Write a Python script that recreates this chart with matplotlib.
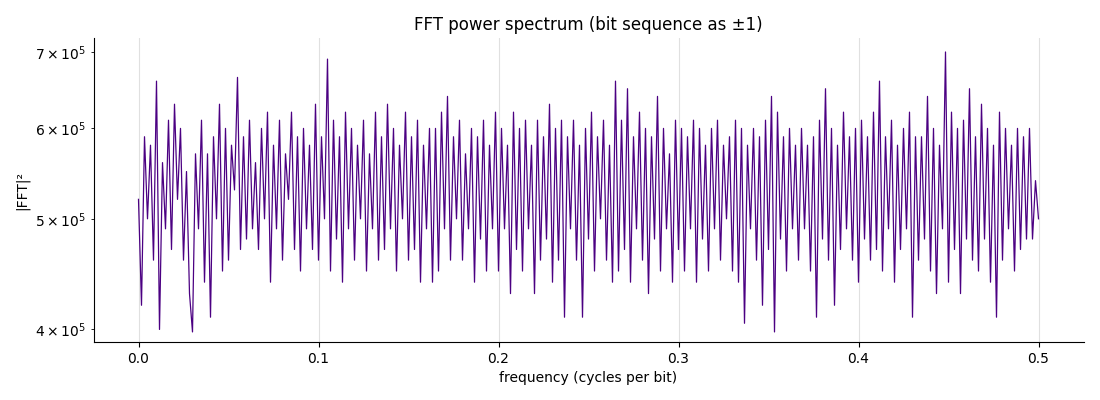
import numpy as np
import matplotlib
matplotlib.use("Agg")
import matplotlib.pyplot as plt
from matplotlib.ticker import LogLocator, LogFormatterSciNotation, NullFormatter

# power values, in units of 1e5 (approximate, downsampled)
power_e5 = [
    5.2, 4.2, 5.9, 5.0, 5.8, 4.6, 6.6, 4.0, 5.6, 4.9, 6.1, 4.7, 6.3, 5.2, 6.0, 4.6, 5.5, 4.3, 3.98, 5.7,
    4.9, 6.1, 4.4, 5.7, 4.1, 5.9, 5.0, 6.3, 4.5, 6.0, 4.6, 5.8, 5.3, 6.65, 4.7, 5.9, 4.8, 6.1, 4.9, 5.6,
    4.7, 6.0, 5.0, 6.2, 4.4, 5.8, 4.9, 6.1, 4.6, 5.7, 5.2, 6.2, 4.7, 5.9, 4.5, 6.0, 4.9, 5.8, 4.7, 6.3,
    4.6, 5.9, 5.0, 6.9, 4.5, 6.1, 4.8, 5.9, 4.4, 6.2, 4.9, 6.0, 4.6, 5.8, 5.0, 6.1, 4.5, 5.7, 4.9, 6.2,
    4.6, 5.9, 4.7, 6.3, 4.9, 6.0, 4.5, 5.8, 5.0, 6.2, 4.6, 5.9, 4.7, 6.1, 4.4, 5.8, 4.9, 6.0, 4.4, 6.0,
    4.5, 6.2, 4.9, 6.4, 4.6, 5.9, 5.0, 6.1, 4.6, 5.7, 4.9, 6.0, 4.4, 5.9, 4.8, 6.1, 4.5, 5.8, 4.9, 6.2,
    4.5, 6.0, 4.9, 5.8, 4.3, 6.2, 4.7, 6.0, 4.5, 6.1, 4.9, 5.8, 4.3, 6.1, 4.6, 5.9, 4.8, 6.3, 4.4, 6.0,
    4.6, 6.1, 4.1, 5.9, 4.9, 6.1, 4.6, 5.8, 4.1, 6.0, 4.8, 6.2, 4.5, 5.9, 5.0, 6.1, 4.6, 5.8, 4.4, 6.6,
    4.5, 6.1, 4.7, 6.5, 4.4, 5.9, 4.9, 6.2, 4.6, 6.0, 4.3, 5.9, 4.8, 6.4, 4.5, 6.0, 4.9, 5.7, 4.4, 6.1,
    4.7, 6.0, 4.5, 5.9, 4.9, 6.1, 4.4, 6.0, 4.8, 5.8, 4.5, 6.0, 4.9, 6.1, 4.6, 5.8, 5.0, 5.9, 4.5, 6.1,
    4.4, 6.0, 4.05, 5.8, 4.9, 6.0, 4.6, 5.9, 4.2, 6.1, 4.7, 6.4, 3.98, 6.2, 4.8, 5.9, 4.5, 6.0, 4.9, 5.8,
    4.6, 6.0, 4.9, 5.8, 4.5, 5.9, 4.1, 6.1, 4.8, 6.5, 4.6, 6.0, 4.2, 5.8, 4.7, 6.2, 4.9, 5.9, 4.6, 6.0,
    4.4, 6.1, 4.8, 5.9, 4.6, 6.2, 4.7, 6.6, 4.5, 5.9, 4.9, 6.1, 4.4, 5.8, 4.7, 6.0, 4.9, 6.2, 4.1, 5.9,
    4.6, 5.9, 4.8, 6.4, 4.5, 6.0, 4.3, 5.8, 4.9, 7.0, 4.4, 6.2, 4.7, 6.0, 4.3, 6.1, 4.8, 6.5, 4.6, 5.9,
    4.5, 6.3, 4.8, 6.0, 4.4, 5.8, 4.1, 6.2, 4.6, 6.0, 4.9, 5.8, 4.5, 6.0, 4.7, 5.9, 4.8, 6.0, 4.8, 5.4,
    5.0,
]
f_max = 0.5

power = np.array(power_e5) * 1e5
freq = np.linspace(0, f_max, len(power))

fig, ax = plt.subplots(figsize=(11, 4), dpi=100)
ax.plot(freq, power, color="indigo", linewidth=0.9)
ax.set_yscale("log")
ax.set_ylim(3.9e5, 7.2e5)
ax.set_xlim(-0.025, 0.525)
ax.yaxis.set_major_formatter(NullFormatter())
ax.yaxis.set_minor_locator(LogLocator(base=10, subs=[4, 5, 6, 7]))
ax.yaxis.set_minor_formatter(LogFormatterSciNotation(labelOnlyBase=False))
ax.grid(True, axis="x", color="#e0e0e0", linewidth=0.8)
ax.set_axisbelow(True)
for s in ["top", "right"]:
    ax.spines[s].set_visible(False)
ax.set_title("FFT power spectrum (bit sequence as \u00b11)", fontsize=12)
ax.set_xlabel("frequency (cycles per bit)")
ax.set_ylabel("|FFT|\u00b2")
fig.subplots_adjust(left=0.085, right=0.985, top=0.905, bottom=0.145)
fig.savefig("out.png")
